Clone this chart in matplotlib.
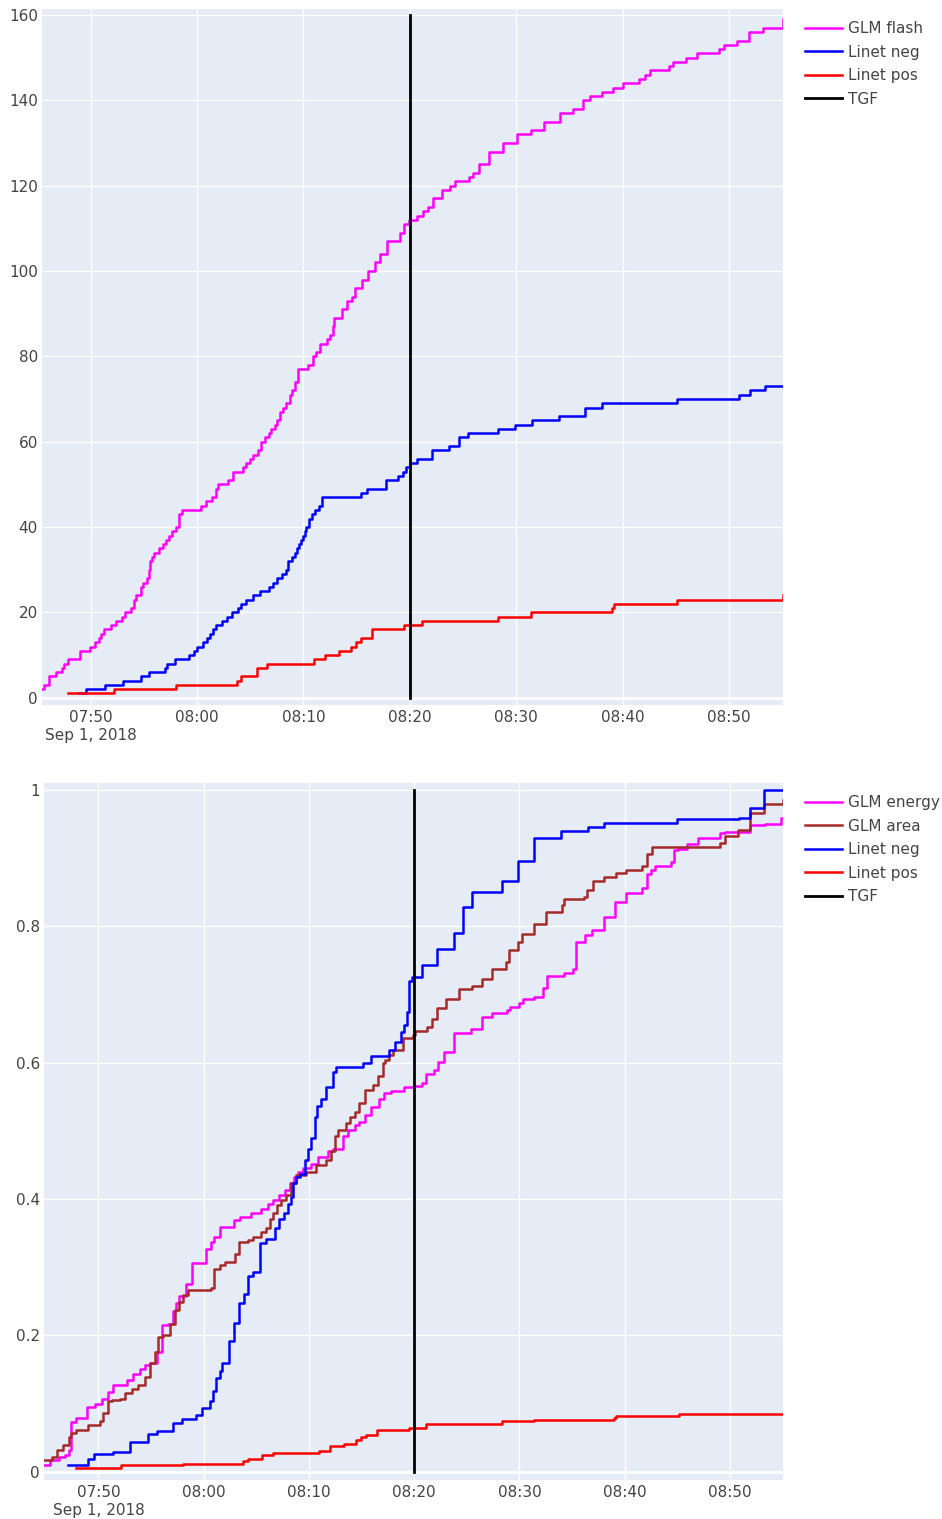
import pandas as pd
import matplotlib.pyplot as plt

DAY = '2018-09-01 '

# ---- top panel: cumulative event counts ----
flash_t = ['07:45:25', '07:45:36', '07:46:04', '07:46:42', '07:47:16', '07:47:29', '07:47:53',
           '07:48:58', '07:49:55', '07:50:25', '07:50:47', '07:50:57', '07:51:15', '07:51:53',
           '07:52:25', '07:52:55', '07:53:14', '07:53:46', '07:54:05', '07:54:18', '07:54:43',
           '07:54:56', '07:55:15', '07:55:26', '07:55:36', '07:55:45', '07:55:58', '07:56:23',
           '07:56:49', '07:57:05', '07:57:23', '07:57:38', '07:58:01', '07:58:16', '07:58:20',
           '07:58:35', '08:00:23', '08:00:51', '08:01:25', '08:01:47', '08:01:57', '08:02:53',
           '08:03:22', '08:04:18', '08:04:34', '08:05:00', '08:05:15', '08:05:43', '08:06:02',
           '08:06:21', '08:06:46', '08:06:59', '08:07:18', '08:07:31', '08:07:46', '08:08:05',
           '08:08:24', '08:08:43', '08:08:58', '08:09:11', '08:09:30', '08:10:26', '08:10:55',
           '08:11:10', '08:11:32', '08:12:14', '08:12:29', '08:12:44', '08:12:52', '08:13:35',
           '08:14:04', '08:14:32', '08:14:50', '08:15:28', '08:16:06', '08:16:44', '08:17:12',
           '08:17:50', '08:19:05', '08:19:28', '08:19:58', '08:20:43', '08:21:12', '08:21:45',
           '08:22:10', '08:23:03', '08:23:47', '08:24:16', '08:25:34', '08:25:57', '08:26:28',
           '08:27:27', '08:28:48', '08:30:06', '08:31:23', '08:32:37', '08:34:09', '08:35:22',
           '08:36:15', '08:36:54', '08:38:02', '08:39:06', '08:40:04', '08:41:35', '08:42:04',
           '08:42:33', '08:44:24', '08:44:43', '08:45:57', '08:46:59', '08:49:02', '08:49:31',
           '08:50:45', '08:51:53', '08:53:14', '08:55:05']
flash_n = [2, 3, 5, 6, 7, 8, 9, 11, 12, 13, 14, 15, 16, 17, 18, 19, 20, 21, 23, 24, 26, 27, 28,
           30, 32, 33, 34, 35, 36, 37, 38, 39, 40, 41, 43, 44, 45, 46, 47, 49, 50, 51, 53, 54,
           55, 56, 57, 58, 60, 61, 62, 63, 64, 65, 67, 68, 69, 71, 72, 74, 77, 78, 80, 81, 83,
           84, 85, 87, 89, 91, 93, 94, 96, 98, 100, 102, 104, 107, 109, 111, 112, 113, 114, 115,
           117, 119, 120, 121, 122, 123, 125, 128, 130, 132, 133, 135, 137, 138, 140, 141, 142,
           143, 144, 145, 146, 147, 148, 149, 150, 151, 152, 153, 154, 156, 157, 159]

neg_t = ['07:48:54', '07:49:35', '07:51:21', '07:53:02', '07:54:42', '07:55:29', '07:56:58',
         '07:57:09', '07:57:54', '07:59:15', '07:59:43', '08:00:02', '08:00:34', '08:00:58',
         '08:01:11', '08:01:27', '08:01:49', '08:02:23', '08:02:51', '08:03:14', '08:03:48',
         '08:04:10', '08:04:38', '08:05:16', '08:05:54', '08:06:43', '08:07:09', '08:07:33',
         '08:08:01', '08:08:24', '08:08:35', '08:08:58', '08:09:14', '08:09:26', '08:09:36',
         '08:09:46', '08:09:56', '08:10:06', '08:10:17', '08:10:30', '08:10:46', '08:11:05',
         '08:11:25', '08:11:47', '08:15:27', '08:16:01', '08:17:45', '08:18:55', '08:19:20',
         '08:19:40', '08:20:00', '08:20:41', '08:22:06', '08:23:43', '08:24:39', '08:25:30',
         '08:28:20', '08:29:54', '08:31:29', '08:34:01', '08:36:30', '08:38:05', '08:45:09',
         '08:50:58', '08:52:01', '08:53:24', '08:55:05']
neg_n = [1, 2, 3, 4, 5, 6, 7, 8, 9, 10, 11, 12, 13, 14, 15, 16, 17, 18, 19, 20, 21, 22, 23, 24,
         25, 26, 27, 28, 29, 30, 32, 33, 34, 35, 36, 37, 38, 39, 40, 42, 43, 44, 45, 47, 48, 49,
         51, 52, 53, 54, 55, 56, 58, 59, 61, 62, 63, 64, 65, 66, 68, 69, 70, 71, 72, 73, 73]

pos_t = ['07:47:52', '07:52:11', '07:58:00', '08:03:47', '08:04:10', '08:05:35', '08:06:37',
         '08:11:00', '08:12:00', '08:13:21', '08:14:27', '08:14:56', '08:15:24', '08:16:29',
         '08:19:28', '08:21:06', '08:28:20', '08:31:25', '08:38:58', '08:39:11', '08:45:09',
         '08:55:05']
pos_n = [1, 2, 3, 4, 5, 7, 8, 9, 10, 11, 12, 13, 14, 16, 17, 18, 19, 20, 21, 22, 23, 24]

# ---- bottom panel: normalised cumulative values ----
energy_t = ['07:44:50', '07:45:25', '07:46:13', '07:46:51', '07:47:15', '07:47:23', '07:47:53',
            '07:48:54', '07:49:41', '07:50:19', '07:50:57', '07:51:25', '07:52:45', '07:53:15',
            '07:53:57', '07:54:25', '07:54:54', '07:55:32', '07:56:00', '07:56:38', '07:57:03',
            '07:57:22', '07:57:41', '07:58:22', '07:58:56', '08:00:16', '08:00:39', '08:00:58',
            '08:01:32', '08:02:52', '08:03:26', '08:04:32', '08:05:29', '08:06:07', '08:06:35',
            '08:07:09', '08:07:41', '08:08:10', '08:08:33', '08:08:58', '08:09:26', '08:10:13',
            '08:10:51', '08:11:48', '08:12:16', '08:13:17', '08:13:42', '08:14:20', '08:14:48',
            '08:15:22', '08:15:54', '08:16:42', '08:17:10', '08:17:48', '08:19:04', '08:20:00',
            '08:20:47', '08:21:06', '08:21:54', '08:22:13', '08:22:50', '08:23:47', '08:25:22',
            '08:26:28', '08:27:25', '08:28:50', '08:29:05', '08:29:56', '08:30:21', '08:31:22',
            '08:32:14', '08:32:37', '08:34:12', '08:35:05', '08:35:23', '08:36:15', '08:36:53',
            '08:37:59', '08:39:05', '08:40:05', '08:41:36', '08:42:05', '08:42:28', '08:42:52',
            '08:44:21', '08:44:40', '08:45:05', '08:45:52', '08:46:58', '08:49:01', '08:49:30',
            '08:51:52', '08:53:17', '08:54:52', '08:55:02']
energy_v = [0.010, 0.017, 0.021, 0.024, 0.032, 0.073, 0.079, 0.095, 0.100, 0.107, 0.117, 0.127,
            0.134, 0.144, 0.151, 0.156, 0.159, 0.176, 0.215, 0.217, 0.235, 0.247, 0.257, 0.276,
            0.306, 0.327, 0.337, 0.344, 0.359, 0.369, 0.374, 0.379, 0.385, 0.393, 0.398, 0.406,
            0.413, 0.423, 0.432, 0.440, 0.445, 0.452, 0.462, 0.471, 0.474, 0.492, 0.501, 0.508,
            0.513, 0.523, 0.535, 0.547, 0.555, 0.559, 0.564, 0.566, 0.570, 0.584, 0.589, 0.601,
            0.615, 0.644, 0.649, 0.667, 0.673, 0.677, 0.682, 0.688, 0.694, 0.697, 0.709, 0.727,
            0.732, 0.738, 0.777, 0.787, 0.794, 0.813, 0.835, 0.849, 0.856, 0.877, 0.882, 0.889,
            0.895, 0.912, 0.914, 0.921, 0.929, 0.937, 0.939, 0.949, 0.950, 0.959, 0.959]

area_t = ['07:44:50', '07:45:35', '07:46:03', '07:46:41', '07:47:10', '07:47:23', '07:47:53',
          '07:49:03', '07:50:09', '07:50:28', '07:50:57', '07:51:16', '07:52:03', '07:52:32',
          '07:53:09', '07:53:47', '07:54:25', '07:54:54', '07:55:22', '07:55:41', '07:56:10',
          '07:56:47', '07:57:16', '07:57:41', '07:58:04', '07:58:32', '08:00:39', '08:00:58',
          '08:01:32', '08:02:00', '08:02:57', '08:03:22', '08:04:13', '08:04:41', '08:05:29',
          '08:05:58', '08:06:16', '08:06:35', '08:06:58', '08:07:23', '08:07:51', '08:08:20',
          '08:08:48', '08:09:45', '08:10:42', '08:11:38', '08:12:07', '08:12:26', '08:12:45',
          '08:13:32', '08:13:55', '08:14:20', '08:14:44', '08:15:22', '08:16:04', '08:16:32',
          '08:17:01', '08:17:16', '08:17:39', '08:17:58', '08:18:59', '08:19:56', '08:20:04',
          '08:21:12', '08:21:44', '08:22:09', '08:23:00', '08:24:16', '08:25:31', '08:26:28',
          '08:27:25', '08:28:41', '08:28:59', '08:29:50', '08:30:15', '08:31:21', '08:32:33',
          '08:34:02', '08:34:12', '08:36:05', '08:36:24', '08:36:58', '08:37:59', '08:39:11',
          '08:40:08', '08:41:37', '08:42:05', '08:42:37', '08:49:01', '08:49:30', '08:50:45',
          '08:51:52', '08:53:13', '08:55:02']
area_v = [0.017, 0.022, 0.032, 0.039, 0.051, 0.057, 0.061, 0.068, 0.074, 0.086, 0.103, 0.105,
          0.107, 0.115, 0.122, 0.127, 0.139, 0.159, 0.176, 0.198, 0.200, 0.217, 0.237, 0.249,
          0.259, 0.267, 0.270, 0.298, 0.303, 0.308, 0.320, 0.337, 0.340, 0.345, 0.352, 0.357,
          0.371, 0.379, 0.391, 0.398, 0.406, 0.423, 0.435, 0.440, 0.450, 0.457, 0.471, 0.492,
          0.501, 0.511, 0.520, 0.528, 0.541, 0.560, 0.567, 0.580, 0.599, 0.604, 0.611, 0.619,
          0.636, 0.641, 0.647, 0.653, 0.664, 0.680, 0.694, 0.708, 0.713, 0.723, 0.738, 0.748,
          0.765, 0.777, 0.789, 0.804, 0.821, 0.831, 0.840, 0.843, 0.853, 0.867, 0.873, 0.878,
          0.882, 0.888, 0.906, 0.916, 0.923, 0.932, 0.941, 0.966, 0.979, 0.985]

neg2_t = ['07:47:09', '07:49:03', '07:49:35', '07:51:22', '07:53:00', '07:54:44', '07:55:35',
          '07:57:03', '07:57:54', '07:59:19', '07:59:53', '08:00:35', '08:00:54', '08:01:13',
          '08:01:32', '08:01:47', '08:02:25', '08:02:52', '08:03:20', '08:03:48', '08:04:13',
          '08:04:41', '08:05:19', '08:05:57', '08:06:45', '08:07:09', '08:07:36', '08:08:01',
          '08:08:15', '08:08:29', '08:08:44', '08:09:07', '08:09:35', '08:09:54', '08:10:13',
          '08:10:32', '08:10:46', '08:11:10', '08:11:38', '08:12:16', '08:12:35', '08:15:07',
          '08:15:54', '08:17:35', '08:18:10', '08:18:44', '08:19:00', '08:19:18', '08:19:32',
          '08:19:50', '08:20:47', '08:22:09', '08:23:47', '08:24:40', '08:25:27', '08:28:18',
          '08:29:50', '08:31:21', '08:33:58', '08:36:28', '08:37:59', '08:45:00', '08:50:51',
          '08:51:52', '08:53:13', '08:55:02']
neg2_v = [0.010, 0.018, 0.026, 0.029, 0.043, 0.056, 0.059, 0.071, 0.077, 0.083, 0.093, 0.103,
          0.119, 0.137, 0.147, 0.159, 0.191, 0.218, 0.247, 0.261, 0.287, 0.293, 0.336, 0.341,
          0.357, 0.371, 0.380, 0.393, 0.403, 0.423, 0.432, 0.437, 0.457, 0.474, 0.489, 0.520,
          0.537, 0.546, 0.564, 0.586, 0.593, 0.599, 0.610, 0.618, 0.630, 0.645, 0.655, 0.675,
          0.720, 0.726, 0.743, 0.767, 0.790, 0.829, 0.851, 0.867, 0.896, 0.929, 0.940, 0.946,
          0.951, 0.957, 0.959, 0.974, 1.000, 1.000]

pos2_t = pos_t
pos2_v = [0.006, 0.010, 0.012, 0.016, 0.018, 0.024, 0.027, 0.031, 0.037, 0.041, 0.047, 0.051,
          0.054, 0.061, 0.064, 0.070, 0.074, 0.076, 0.079, 0.082, 0.084, 0.086]

tgf_time = '08:20:00'

tick_times = ['07:50:00', '08:00:00', '08:10:00', '08:20:00', '08:30:00', '08:40:00', '08:50:00']
tick_labels = ['07:50\nSep 1, 2018', '08:00', '08:10', '08:20', '08:30', '08:40', '08:50']


def ts(times):
    return pd.to_datetime([DAY + t for t in times])


TXT = '#444444'
FS = 11
LW = 1.8

fig = plt.figure(figsize=(9.42, 15.19), dpi=100)
W, H = 942, 1519
ax1 = fig.add_axes([42 / W, 1 - 705 / H, (783 - 42) / W, (705 - 9) / H])
ax2 = fig.add_axes([44 / W, 1 - 1480 / H, (783 - 44) / W, (1480 - 783) / H])


def style(ax):
    ax.set_facecolor('#E5ECF6')
    for s in ax.spines.values():
        s.set_visible(False)
    ax.grid(True, color='white', lw=1)
    ax.set_axisbelow(True)
    ax.axhline(0, color='white', lw=2, zorder=1)
    ax.tick_params(length=0, colors=TXT, labelsize=FS)
    ax.tick_params(axis='x', pad=3.5)
    ax.tick_params(axis='y', pad=3)
    ax.set_xticks(ts(tick_times))
    ax.set_xticklabels(tick_labels, linespacing=1.25)


# top panel
ax1.plot(ts(flash_t), flash_n, drawstyle='steps-post', color='#FF00FF', lw=LW, label='GLM flash')
ax1.plot(ts(neg_t), neg_n, drawstyle='steps-post', color='#0000FF', lw=LW, label='Linet neg')
ax1.plot(ts(pos_t), pos_n, drawstyle='steps-post', color='#FF0000', lw=LW, label='Linet pos')
ax1.plot(ts([tgf_time, tgf_time]), [0, 160], color='black', lw=LW + 0.2, label='TGF')
style(ax1)
ax1.set_xlim(ts([flash_t[0], flash_t[-1]]))
ax1.set_ylim(-1.7, 161.4)
ax1.set_yticks(range(0, 161, 20))

# bottom panel
ax2.plot(ts(energy_t), energy_v, drawstyle='steps-post', color='#FF00FF', lw=LW, label='GLM energy')
ax2.plot(ts(area_t), area_v, drawstyle='steps-post', color='#A52A2A', lw=LW, label='GLM area')
ax2.plot(ts(neg2_t), neg2_v, drawstyle='steps-post', color='#0000FF', lw=LW, label='Linet neg')
ax2.plot(ts(pos2_t), pos2_v, drawstyle='steps-post', color='#FF0000', lw=LW, label='Linet pos')
ax2.plot(ts([tgf_time, tgf_time]), [0, 1], color='black', lw=LW + 0.2, label='TGF')
style(ax2)
ax2.set_xlim(ts([energy_t[0], energy_t[-1]]))
ax2.set_ylim(-0.0122, 1.0103)
ax2.set_yticks([0, 0.2, 0.4, 0.6, 0.8, 1])
ax2.set_yticklabels(['0', '0.2', '0.4', '0.6', '0.8', '1'])

for ax, top in [(ax1, 21), (ax2, 795)]:
    ax.legend(loc='upper left', bbox_to_anchor=(805 / W, 1 - top / H),
              bbox_transform=fig.transFigure, frameon=False, fontsize=FS,
              labelcolor=TXT, handlelength=2.45, handletextpad=0.38,
              labelspacing=0.56, borderpad=0, borderaxespad=0)

fig.savefig('out.png', dpi=100)
